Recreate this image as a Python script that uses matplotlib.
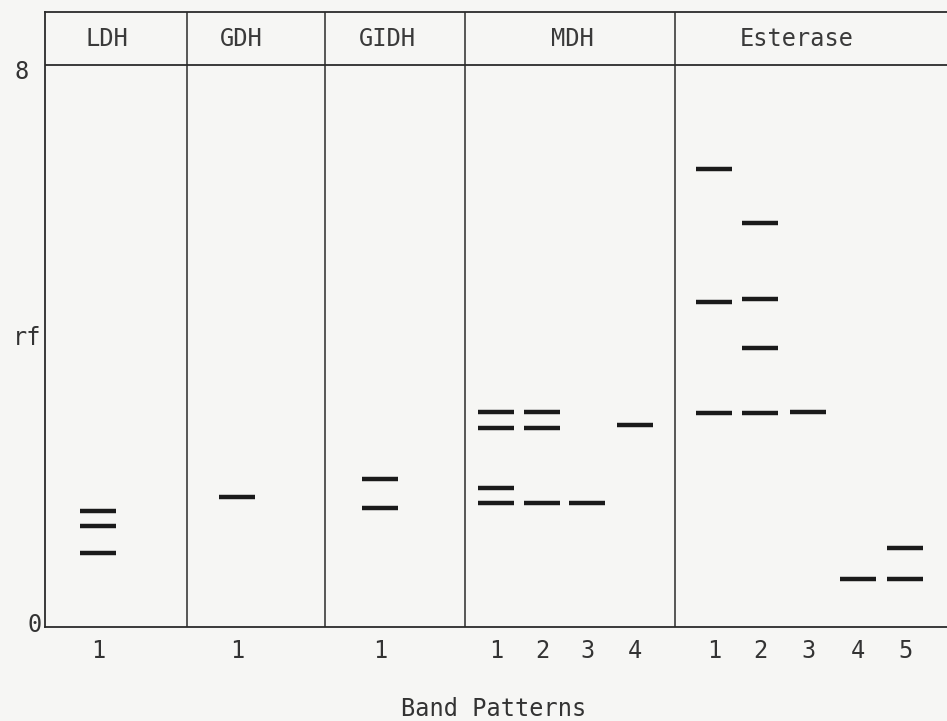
import matplotlib
matplotlib.use("Agg")
import matplotlib.pyplot as plt

# enzyme systems and their band patterns (Rf values)
enzymes = ["LDH", "GDH", "GIDH", "MDH", "Esterase"]
pattern_labels = [
    ["1"],
    ["1"],
    ["1"],
    ["1", "2", "3", "4"],
    ["1", "2", "3", "4", "5"],
]
bands = [
    [[1.65, 1.44, 1.05]],
    [[1.85]],
    [[2.11, 1.69]],
    [[3.06, 2.83, 1.98, 1.76], [3.06, 2.83, 1.76], [1.76], [2.88]],
    [[6.52, 4.63, 3.05], [5.75, 4.67, 3.97, 3.05], [3.06], [0.68], [1.12, 0.68]],
]

# layout (pixel-like x units inside the axes)
group_edges = [0, 142, 280, 420, 630, 902]
header_x = [62, 196, 342, 527, 752]
lane_x = [
    [53],
    [192],
    [335],
    [451, 497, 542, 590],
    [669, 715, 763, 813, 860],
]
band_half = 18

plt.rcParams["font.family"] = ["DejaVu Sans Mono"]
ink = "#2b2b2b"
paper = "#f6f6f4"
txt = "#333333"

fig = plt.figure(figsize=(9.47, 7.21), dpi=100, facecolor=paper)
ax = fig.add_axes([45 / 947, 1 - 627 / 721, 902 / 947, (627 - 12) / 721])
ax.set_facecolor(paper)
ax.set_xlim(0, 902)
ax.set_ylim(0, 8.75)

ax.spines["right"].set_visible(False)
for s in ["left", "bottom", "top"]:
    ax.spines[s].set_color(ink)
    ax.spines[s].set_linewidth(1.3)

ax.axhline(8, color=ink, lw=1.3)
for e in group_edges[1:-1]:
    ax.axvline(e, color=ink, lw=1.1)

ax.set_xticks([])
ax.set_yticks([])
ax.text(-23, 7.9, "8", ha="center", va="center", fontsize=17, color=txt)
ax.text(-10, 0.03, "0", ha="center", va="center", fontsize=17, color=txt)
ax.text(-18, 4.11, "rf", ha="center", va="center", fontsize=17, color=txt)

for g, name in enumerate(enzymes):
    ax.text(header_x[g], 8.37, name, ha="center", va="center", fontsize=17,
            color="#3a3a3a")
    for i, x in enumerate(lane_x[g]):
        for rf in bands[g][i]:
            ax.plot([x - band_half, x + band_half], [rf, rf], color="#1a1a1a",
                    lw=3.2, solid_capstyle="butt")
        ax.text(x, -0.34, pattern_labels[g][i], ha="center", va="center",
                fontsize=17, color=txt)

ax.text(449, -1.16, "Band Patterns", ha="center", va="center", fontsize=17,
        color=txt)

fig.savefig("out.png", dpi=100, facecolor=paper)
